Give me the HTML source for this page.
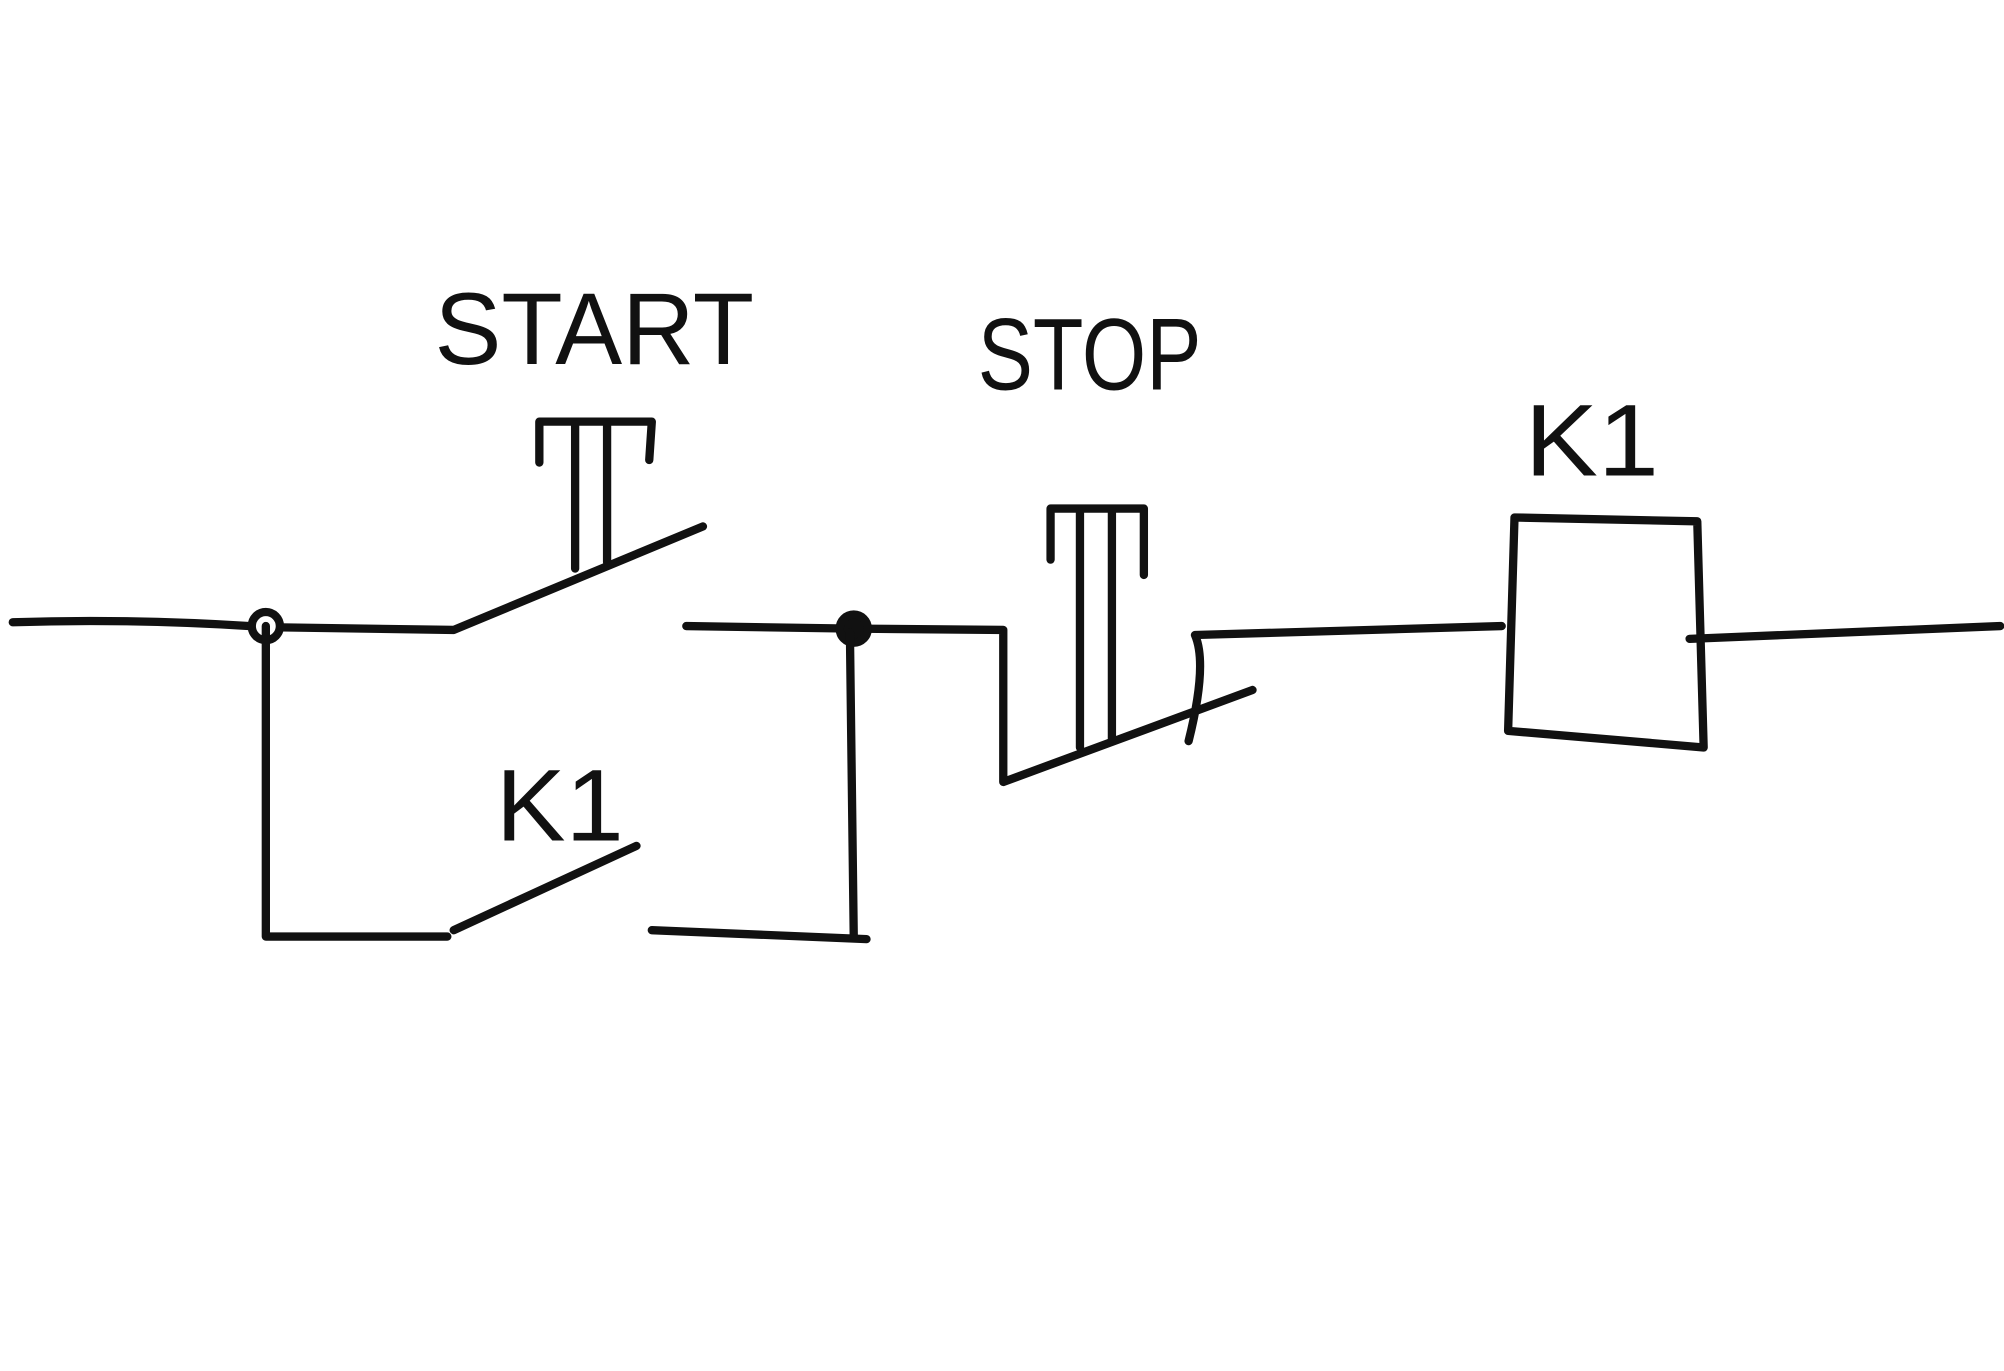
<!DOCTYPE html>
<html><head><meta charset="utf-8"><style>
html,body{margin:0;padding:0;background:#fff;}
svg{display:block;}
text{font-family:"Liberation Sans",sans-serif;font-size:80px;fill:#111;}
</style></head><body>
<svg width="2004" height="1371" viewBox="0 0 1568 1073" preserveAspectRatio="none">
<g fill="none" stroke="#111" stroke-width="6.5" stroke-linecap="round" stroke-linejoin="round">
<path d="M10 487 Q100 484 196 490"/>
<circle cx="208" cy="490" r="11"/>
<path d="M220 491 L355 493 L550 412"/>
<path d="M422 362 L422 330 L510 330 L508 360"/>
<path d="M450 332 L450 445 M475 332 L475 440"/>
<path d="M537 490 L668 492 L785 493 L785 612 L980 540"/>
<circle cx="668" cy="492" r="11" fill="#111"/>
<path d="M822 438 L822 398 L895 398 L895 450"/>
<path d="M845 400 L845 585 M870 400 L870 578"/>
<path d="M930 580 Q945 520 935 497 L1175 490"/>
<path d="M1185 405 L1328 408 L1333 585 L1180 572 Z"/>
<path d="M1322 500 L1565 490"/>
<path d="M208 490 L208 733 L350 733"/>
<path d="M355 728 L498 662"/>
<path d="M510 728 L678 735"/>
<path d="M668 733 L665 495"/>
</g>
<text x="340" y="285" textLength="250" lengthAdjust="spacingAndGlyphs">START</text>
<text x="765" y="305" textLength="175" lengthAdjust="spacingAndGlyphs">STOP</text>
<text x="1193" y="372" textLength="105" lengthAdjust="spacingAndGlyphs">K1</text>
<text x="388" y="658" textLength="100" lengthAdjust="spacingAndGlyphs">K1</text>
</svg>
</body></html>
